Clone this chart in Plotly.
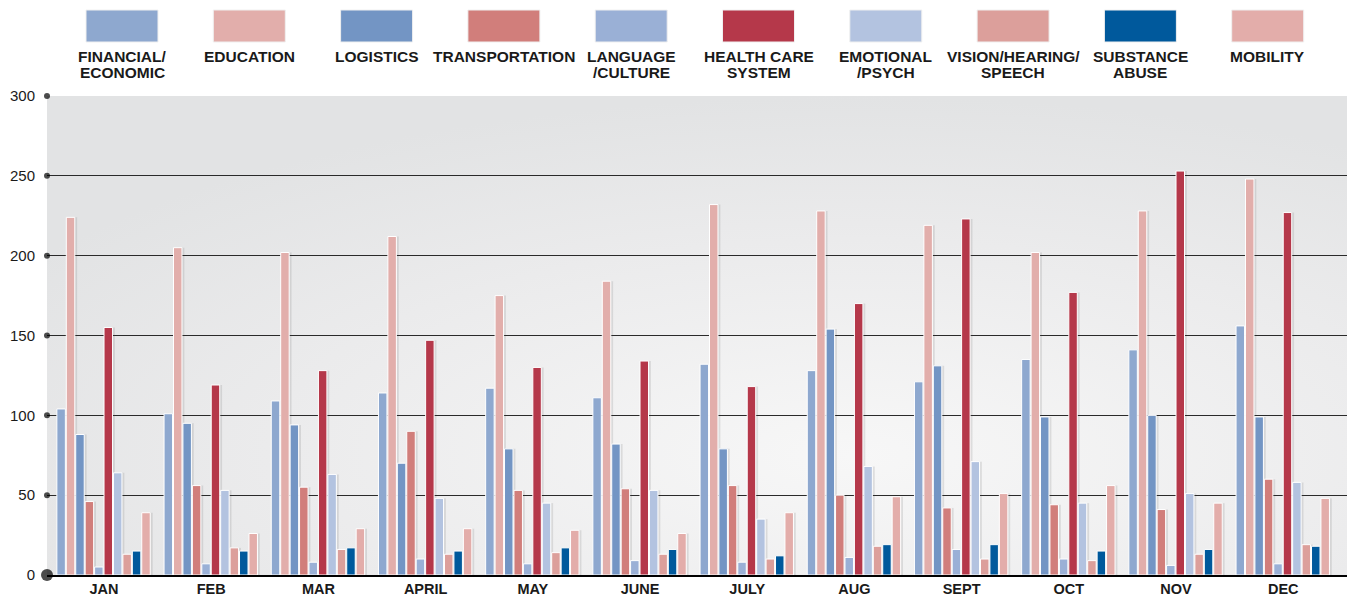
import plotly.graph_objects as go
import urllib.parse

months = ["JAN", "FEB", "MAR", "APRIL", "MAY", "JUNE", "JULY", "AUG", "SEPT", "OCT", "NOV", "DEC"]

series_names = ["FINANCIAL/<br>ECONOMIC", "EDUCATION", "LOGISTICS", "TRANSPORTATION", "LANGUAGE<br>/CULTURE",
                "HEALTH CARE<br>SYSTEM", "EMOTIONAL<br>/PSYCH", "VISION/HEARING/<br>SPEECH", "SUBSTANCE<br>ABUSE", "MOBILITY"]

financial = [104, 101, 109, 114, 117, 111, 132, 128, 121, 135, 141, 156]
education = [224, 205, 202, 212, 175, 184, 232, 228, 219, 202, 228, 248]
logistics = [88, 95, 94, 70, 79, 82, 79, 154, 131, 99, 100, 99]
transportation = [46, 56, 55, 90, 53, 54, 56, 50, 42, 44, 41, 60]
language = [5, 7, 8, 10, 7, 9, 8, 11, 16, 10, 6, 7]
health_care = [155, 119, 128, 147, 130, 134, 118, 170, 223, 177, 253, 227]
emotional = [64, 53, 63, 48, 45, 53, 35, 68, 71, 45, 51, 58]
vision = [13, 17, 16, 13, 14, 13, 10, 18, 10, 9, 13, 19]
substance = [15, 15, 17, 15, 17, 16, 12, 19, 19, 15, 16, 18]
mobility = [39, 26, 29, 29, 28, 26, 39, 49, 51, 56, 45, 48]

y_ticks = [0, 50, 100, 150, 200, 250, 300]

colors = ["#8ea8cf", "#e2aeab", "#7395c4", "#d17e7b", "#9ab0d6",
          "#b5384a", "#b3c3e0", "#dc9f9b", "#00599c", "#e3adaa"]

all_series = [financial, education, logistics, transportation, language,
              health_care, emotional, vision, substance, mobility]

X_RANGE = [-0.532, 11.595]
GROUP = 0.88
SLOT = GROUP / len(all_series)
BAR_W = SLOT * 0.9

fig = go.Figure()
# soft shadows first
for i, vals in enumerate(all_series):
    off = -GROUP / 2 + i * SLOT + 0.022
    fig.add_trace(go.Bar(x=months, y=vals, width=BAR_W, offset=off,
                         marker=dict(color="rgba(60,60,60,0.13)", line=dict(width=0)),
                         showlegend=False, hoverinfo="skip"))
for i, (name, vals, col) in enumerate(zip(series_names, all_series, colors)):
    off = -GROUP / 2 + i * SLOT
    fig.add_trace(go.Bar(x=months, y=vals, name=name.replace("<br>", " "), width=BAR_W, offset=off,
                         marker=dict(color=col, line=dict(color="white", width=1)),
                         showlegend=False))

# dots on the y axis
fig.add_trace(go.Scatter(x=[X_RANGE[0]] * len(y_ticks), y=y_ticks, mode="markers",
                         marker=dict(color="black", size=[12] + [6] * (len(y_ticks) - 1), line=dict(width=0)),
                         cliponaxis=False, showlegend=False, hoverinfo="skip",
                         xaxis="x2"))

W, H = 1347, 598
L, R, T, B = 47, 0, 96, 23
pw = W - L - R
ph = H - T - B

# background gradient via inline SVG
svg = ('<svg xmlns="http://www.w3.org/2000/svg" width="1300" height="479" preserveAspectRatio="none">'
       '<defs><radialGradient id="g" cx="0.62" cy="0.75" r="0.75">'
       '<stop offset="0" stop-color="#f7f7f7"/><stop offset="0.6" stop-color="#ebebec"/>'
       '<stop offset="1" stop-color="#e2e3e4"/></radialGradient></defs>'
       '<rect width="1300" height="479" fill="url(#g)"/></svg>')
src = "data:image/svg+xml;charset=utf-8," + urllib.parse.quote(svg)

shapes = []
annotations = []
for i, (name, col) in enumerate(zip(series_names, colors)):
    cx = 122 + i * 127.3
    x0 = (cx - 36 - L) / pw
    x1 = (cx + 36 - L) / pw
    shapes.append(dict(type="rect", xref="paper", yref="paper",
                       x0=x0, x1=x1, y0=1 + (T - 42) / ph, y1=1 + (T - 10) / ph,
                       fillcolor=col, line=dict(color="#f0f0f0", width=1)))
    for j, line in enumerate(name.split("<br>")):
        annotations.append(dict(xref="paper", yref="paper", x=(cx - L) / pw,
                                y=1 + (T - 56 - 17 * j) / ph, yanchor="middle", xanchor="center",
                                text=line, showarrow=False, align="center",
                                font=dict(family="Liberation Sans", size=15.5, color="#1a1a1a", weight="bold")))

fig.update_layout(
    width=W, height=H,
    margin=dict(l=L, r=R, t=T, b=B, pad=0),
    paper_bgcolor="white",
    plot_bgcolor="#e8e8e9",
    barmode="overlay",
    images=[dict(source=src, xref="paper", yref="paper", x=0, y=1, sizex=1, sizey=1,
                 xanchor="left", yanchor="top", sizing="stretch", layer="below")],
    shapes=shapes,
    annotations=annotations,
    xaxis=dict(range=X_RANGE, showgrid=False, ticks="", zeroline=False, automargin=False,
               showline=True, linecolor="black", linewidth=2, layer="above traces",
               tickfont=dict(family="Liberation Sans", size=14.5, color="#1a1a1a", weight="bold"),
               ticklabelstandoff=0),
    xaxis2=dict(range=X_RANGE, type="linear", overlaying="x", visible=False, automargin=False),
    yaxis=dict(range=[0, 300], tickvals=y_ticks, showgrid=True, gridcolor="#2a2a2a", gridwidth=1.3,
               zeroline=False, ticks="", ticklen=0, automargin=False,
               tickfont=dict(family="Liberation Sans", size=15, color="#1a1a1a"),
               ticklabelstandoff=11),
    font=dict(family="Liberation Sans"),
)

fig.write_html("out.html", config={"displayModeBar": False},
               post_script="document.body.style.margin='0';document.body.style.overflow='hidden';")
